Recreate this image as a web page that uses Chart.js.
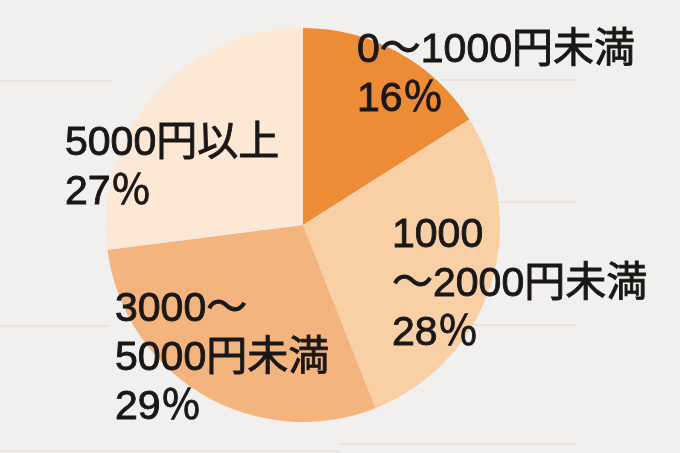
<!DOCTYPE html>
<html>
<head>
<meta charset="utf-8">
<script src="https://cdn.jsdelivr.net/npm/chart.js@4"></script>
<style>
  html, body { margin: 0; padding: 0; background: #f1f0ee; }
  #wrap { width: 680px; height: 453px; position: relative; }
</style>
</head>
<body>
<div id="wrap"><canvas id="priceChart"></canvas></div>
<script>
// price range categories, each label split into lines
const categories = [
    ['0〜1000円未満'],
    ['1000', '〜2000円未満'],
    ['3000〜', '5000円未満'],
    ['5000円以上']
];
const shares = [16, 28, 29, 27];
const sliceColors = ['#ee8b35', '#f9d0a6', '#f4b47e', '#fce8d4'];

// where each text block starts, relative to the pie centre (px)
const labelOffsets = [[54, -163], [89, 22], [-188, 96], [-238, -70]];

const paperLines = {
    id: 'paperLines',
    beforeDraw(chart) {
        const c = chart.ctx;
        c.save();
        c.fillStyle = '#f1f0ee';
        c.fillRect(0, 0, chart.width, chart.height);
        c.strokeStyle = '#e4e2de';
        c.lineWidth = 1.5;
        [[0, 112, 81], [440, 577, 80], [500, 577, 202], [0, 110, 326],
         [470, 577, 325], [340, 577, 444], [0, 340, 451]].forEach(([x1, x2, y]) => {
            c.beginPath(); c.moveTo(x1, y); c.lineTo(x2, y); c.stroke();
        });
        c.restore();
    }
};

const sliceLabels = {
    id: 'sliceLabels',
    afterDatasetsDraw(chart) {
        const c = chart.ctx;
        const arcs = chart.getDatasetMeta(0).data;
        const cx = arcs[0].x, cy = arcs[0].y;
        c.save();
        c.font = '41px "Liberation Sans", "Noto Sans CJK JP", sans-serif';
        c.fillStyle = '#1a1817';
        c.strokeStyle = '#1a1817';
        c.lineWidth = 0.9;
        c.textAlign = 'left';
        c.textBaseline = 'alphabetic';
        categories.forEach((lines, i) => {
            const [dx, dy] = labelOffsets[i];
            const rows = lines.concat([shares[i] + '％']);
            rows.forEach((t, j) => {
                c.fillText(t, cx + dx, cy + dy + j * 49);
                c.strokeText(t, cx + dx, cy + dy + j * 49);
            });
        });
        c.restore();
    }
};

new Chart(document.getElementById('priceChart').getContext('2d'), {
    type: 'pie',
    data: {
        labels: categories.map(l => l.join('')),
        datasets: [{ data: shares, backgroundColor: sliceColors, borderWidth: 0 }]
    },
    options: {
        responsive: true,
        maintainAspectRatio: false,
        animation: false,
        layout: { padding: { top: 28, bottom: 31, left: 0, right: 74 } },
        plugins: { legend: { display: false }, tooltip: { enabled: false } }
    },
    plugins: [paperLines, sliceLabels]
});
</script>
</body>
</html>
